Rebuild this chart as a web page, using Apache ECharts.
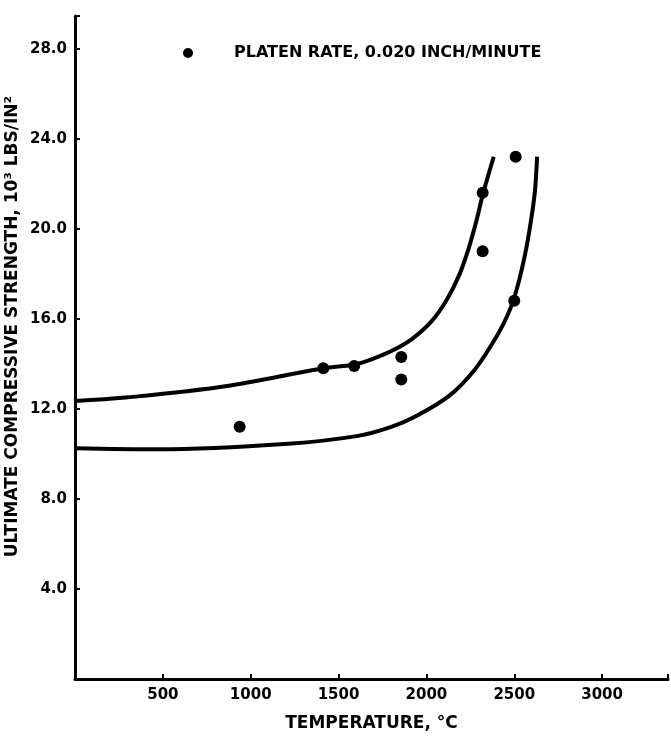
<!DOCTYPE html>
<html>
<head>
<meta charset="utf-8">
<script src="https://cdn.jsdelivr.net/npm/echarts@6/dist/echarts.min.js"></script>
<style>
html,body{margin:0;padding:0;background:#fff;}
#chart{width:671px;height:737px;}
</style>
</head>
<body>
<div id="chart"></div>
<script>
// Data points (temperature °C, strength 10^3 lbs/in^2)
var pointTemps = [937, 1413, 1589, 1857, 1857, 2320, 2320, 2500, 2508];
var pointStrengths = [11.2, 13.8, 13.9, 14.3, 13.3, 21.6, 19.0, 16.8, 23.2];

// Upper fitted curve
var upperTemps = [0, 288, 855, 1413, 1598, 1705, 1812, 1919, 2026, 2116, 2187, 2241, 2285, 2321, 2383];
var upperStrengths = [12.35, 12.5, 13.0, 13.8, 13.98, 14.25, 14.61, 15.11, 15.86, 16.85, 17.95, 19.14, 20.37, 21.52, 23.2];

// Lower fitted curve
var lowerTemps = [0, 477, 1214, 1611, 1800, 1937, 2133, 2276, 2383, 2440, 2480, 2510, 2540, 2570, 2598, 2618, 2630];
var lowerStrengths = [10.25, 10.2, 10.45, 10.8, 11.2, 11.66, 12.6, 13.75, 15.0, 15.8, 16.5, 17.2, 18.1, 19.2, 20.5, 21.7, 23.2];

var xTicks = [500, 1000, 1500, 2000, 2500, 3000];
var yTicks = [4, 8, 12, 16, 20, 24, 28];

var legendName = 'PLATEN RATE, 0.020 INCH/MINUTE';
var xName = 'TEMPERATURE, °C';
var yName = 'ULTIMATE COMPRESSIVE STRENGTH, 10³ LBS/IN²';

function zip(a, b) { return a.map(function (v, i) { return [v, b[i]]; }); }

var FONT = 'DejaVu Sans';
var chart = echarts.init(document.getElementById('chart'));
chart.setOption({
  backgroundColor: '#ffffff',
  animation: false,
  grid: { left: 75, right: 0, top: 16, bottom: 51 },
  legend: {
    data: [legendName],
    left: 178, top: 40,
    itemWidth: 10, itemHeight: 10, itemGap: 0,
    icon: 'circle',
    itemStyle: { color: '#000', opacity: 1 },
    textStyle: { fontFamily: FONT, fontWeight: 'bold', fontSize: 16, color: '#000', padding: [0, 0, 0, 36] }
  },
  xAxis: {
    type: 'value', min: 0, max: 3375, interval: 500,
    splitLine: { show: false },
    axisLine: { lineStyle: { color: '#000', width: 3 } },
    axisTick: { inside: true, length: 5, lineStyle: { color: '#000', width: 2 } },
    axisLabel: {
      margin: 9, color: '#000', fontFamily: FONT, fontWeight: 'bold', fontSize: 15,
      formatter: function (v) { return xTicks.indexOf(v) >= 0 ? String(v) : ''; }
    },
    name: xName, nameLocation: 'middle', nameGap: 36,
    nameTextStyle: { color: '#000', fontFamily: FONT, fontWeight: 'bold', fontSize: 17 }
  },
  yAxis: {
    type: 'value', min: 0, max: 29.45, interval: 4,
    splitLine: { show: false },
    axisLine: { lineStyle: { color: '#000', width: 3 } },
    axisTick: { inside: true, length: 5, lineStyle: { color: '#000', width: 2 } },
    axisLabel: {
      margin: 8, color: '#000', fontFamily: FONT, fontWeight: 'bold', fontSize: 15,
      formatter: function (v) { return yTicks.indexOf(v) >= 0 ? v.toFixed(1) : ''; }
    }
  },
  graphic: [{
    type: 'text', left: 4, top: 96,
    rotation: Math.PI / 2,
    style: { text: yName, fill: '#000', font: 'bold 17px "DejaVu Sans"' }
  }],
  series: [
    {
      name: 'upper', type: 'line', data: zip(upperTemps, upperStrengths),
      smooth: 0.35, showSymbol: false, symbol: 'none',
      lineStyle: { color: '#000', width: 4 }, silent: true, z: 2
    },
    {
      name: 'lower', type: 'line', data: zip(lowerTemps, lowerStrengths),
      smooth: 0.35, showSymbol: false, symbol: 'none',
      lineStyle: { color: '#000', width: 4 }, silent: true, z: 2
    },
    {
      name: legendName, type: 'scatter', data: zip(pointTemps, pointStrengths),
      symbolSize: 12, itemStyle: { color: '#000', opacity: 1 }, z: 3
    }
  ]
});
</script>
</body>
</html>
